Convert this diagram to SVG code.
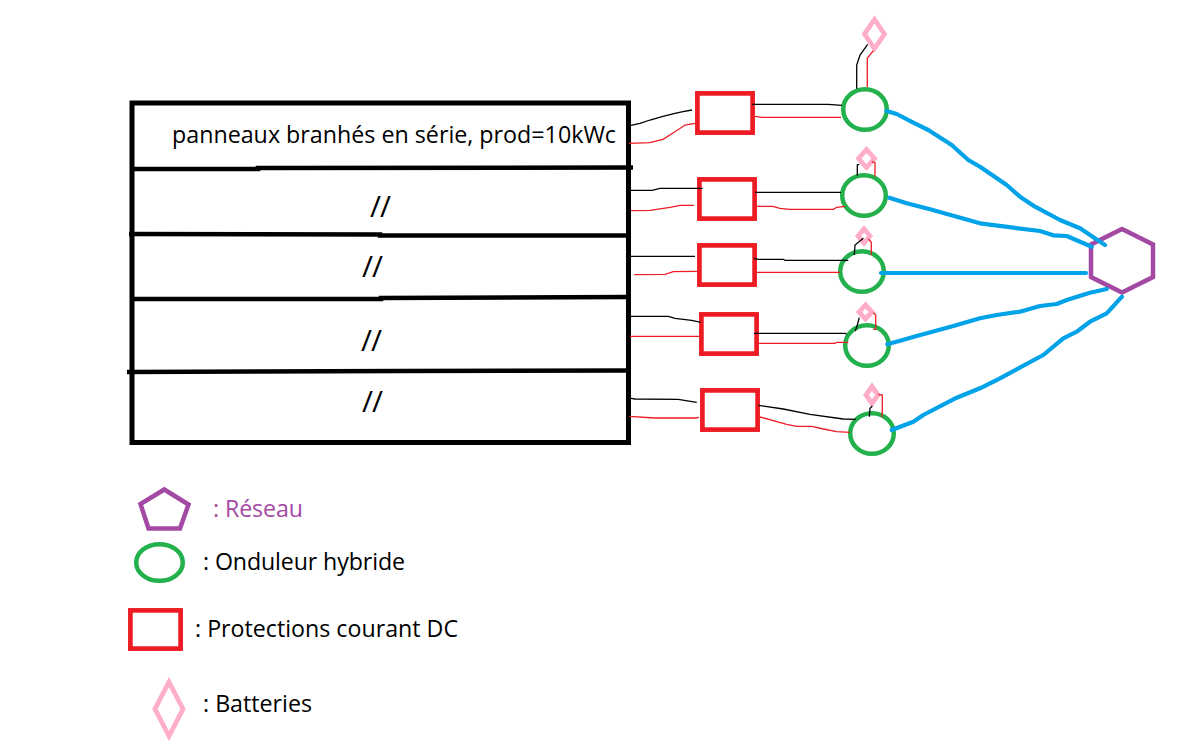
<svg xmlns="http://www.w3.org/2000/svg" width="1187" height="756" viewBox="0 0 1187 756">
<style>
text{font-family:"Open Sans","Noto Sans","Liberation Sans",sans-serif;font-size:23.2px;fill:#000}
.sl{font-size:30px;letter-spacing:-1px}
.panel{fill:none;stroke:#000;stroke-width:5}
.div{fill:none;stroke:#000;stroke-width:4.5}
.box{fill:#fff;stroke:#ED1C24;stroke-width:4.7}
.inv{fill:#fff;stroke:#22B14C;stroke-width:4.5}
.bat{fill:#fff;stroke:#FFAEC9;stroke-width:4.8}
.net{fill:#fff;stroke:#A349A4;stroke-width:4.5;stroke-linejoin:miter}
.k{fill:none;stroke:#000;stroke-width:1.3}
.r{fill:none;stroke:#ED1C24;stroke-width:1.3}
.b{fill:none;stroke:#00A2E8;stroke-width:4.2;stroke-linejoin:round;stroke-linecap:round}
</style>
<rect width="1187" height="756" fill="#fff"/>
<g id="panels">
<rect class="panel" x="132" y="103" width="496.500" height="339.500"/>
<polyline class="div" points="133,169 258,169 258,168 633,167.500"/>
<polyline class="div" points="129,234 380,234.500 380,235.500 628,235.500"/>
<polyline class="div" points="133,299 381,299 381,298 628,297"/>
<polyline class="div" points="127,372 400,371 628,370.500"/>
<text id="t-panel" x="172" y="143" textLength="444" lengthAdjust="spacingAndGlyphs">panneaux branhés en série, prod=10kWc</text>
<text class="sl" x="370" y="216.700">//</text>
<text class="sl" x="362" y="276.700">//</text>
<text class="sl" x="361" y="350.700">//</text>
<text class="sl" x="362" y="411.700">//</text>
</g>
<g id="protections">
<rect class="box" x="697.400" y="93.400" width="55.200" height="39.200"/>
<rect class="box" x="699.400" y="179.400" width="55.200" height="39.200"/>
<rect class="box" x="699.400" y="245.400" width="55.200" height="39.200"/>
<rect class="box" x="701.400" y="314.400" width="55.200" height="39.200"/>
<rect class="box" x="702.400" y="390.400" width="55.200" height="39.200"/>
</g>
<g id="inverters">
<ellipse class="inv" cx="865" cy="109.500" rx="21.800" ry="20.300"/>
<ellipse class="inv" cx="864" cy="195.500" rx="21.800" ry="20.300"/>
<ellipse class="inv" cx="862" cy="271.500" rx="21.800" ry="20.300"/>
<ellipse class="inv" cx="867" cy="345.500" rx="21.800" ry="20.300"/>
<ellipse class="inv" cx="872" cy="433.500" rx="21.800" ry="20.300"/>
</g>
<g id="batteries">
<polygon class="bat" points="874.500,19.500 884.500,34 874.500,48.500 864.500,34"/>
<polygon class="bat" points="866.500,149.500 874.500,158.500 866.500,167.500 858.500,158.500"/>
<polygon class="bat" points="864,229 870,236 864,243 858,236"/>
<polygon class="bat" points="865.500,305 872,312 865.500,319 859,312"/>
<polygon class="bat" points="872,386.500 878,395 872,403.500 866,395"/>
</g>
<g id="network">
<polygon class="net" points="1122,229 1153,244.500 1153,277 1122,292.500 1091,277 1091,244.500"/>
</g>
<g id="connectors">
<polyline class="k" points="631,125.300 640,123.300 650,120 662,116.700 675,113.300 683,111.700 692,110"/>
<polyline class="r" points="629,143.300 650,142.700 663,139.300 675,131.700 685,125 695,123.300"/>
<polyline class="k" points="752,104.300 828,104.300 842,105.300"/>
<polyline class="r" points="755,116.300 762,117.300 841,117.300"/>
<polyline class="k" points="856.700,88.700 856.700,65 860,55 867.700,44.300"/>
<polyline class="r" points="867.300,87.300 867.300,58.300 873.300,50.700"/>
<polyline class="k" points="631,190.300 652,190.300 660,188.300 702.700,188.300"/>
<polyline class="r" points="631,210.700 650,210.300 670,207.300 680,205.300 694,205.300"/>
<polyline class="k" points="755,192.300 841,192.300"/>
<polyline class="r" points="757,206.300 772.700,206.300 780,208.300 790,209.300 833.300,209.300 836.700,207.300 845,206.300"/>
<polyline class="k" points="857.300,175.700 857.300,165 859.300,164.300"/>
<polyline class="r" points="875,176.700 875,162.700 871.700,161.700"/>
<polyline class="k" points="631,256.300 695,256.300"/>
<polyline class="r" points="634.300,274.700 665,274.300 673.300,271.700 697.300,271.300"/>
<polyline class="k" points="754,258.300 758.300,259.300 783.300,259.300 785,260.300 848.300,260.300"/>
<polyline class="r" points="757,272.300 840,272.300"/>
<polyline class="k" points="854.300,255 855,245 863.300,238.300"/>
<polyline class="r" points="871.300,255 871.300,242.300 868.300,239"/>
<polyline class="k" points="631,316.300 668.300,316.300 675,318.300 691.700,320.300 701,322.300"/>
<polyline class="r" points="630,336.300 699,336.300"/>
<polyline class="k" points="754,333.300 845,333.300 846.700,334.300"/>
<polyline class="r" points="759,343.300 835,343.300 836.700,342.300 848.300,342.300"/>
<polyline class="k" points="855.300,331 857.300,325 859.300,317.700"/>
<polyline class="r" points="873.300,329.300 875.700,329.300 875.700,315 873.300,312.700"/>
<polyline class="k" points="631,398.300 635,399 678.300,399.300 696.700,402.300"/>
<polyline class="r" points="629.300,416.300 655,418 696.700,418 699,417"/>
<polyline class="k" points="758.300,405.300 783.300,409 810,414.300 843.300,419 856,419.300"/>
<polyline class="r" points="760,417 786.700,424.300 796.700,426.300 811.700,426.300 823.300,429 836.700,431.700 850,432.300"/>
<polyline class="k" points="869.300,416.700 870,408.300 872.300,406"/>
<polyline class="r" points="882,417.300 882.300,410 882.300,395 878.300,394.300"/>
<polyline class="b" points="886.700,111 896.700,114 913.300,122.700 928.300,130 951.700,145 968.300,160 980,166.700 1006.700,185 1020,196.700 1035,206.700 1060,220 1080,228.300 1105,245"/>
<polyline class="b" points="889.300,197.700 906.700,203.300 930,209.300 956.700,216.700 980,223.300 1013.300,227.700 1040,231 1053.300,235.300 1066.700,236 1091.700,246.700"/>
<polyline class="b" points="881,273 1086,273"/>
<polyline class="b" points="887.300,344.300 900,340.700 916.700,336 953.300,326 980,318.300 996.700,315 1020,311.700 1040,306 1056.700,304 1066.700,300 1090,292.700 1106.700,289"/>
<polyline class="b" points="891.700,430 913.300,421.700 923.300,415 956.700,397.700 980,388.300 1000,378.300 1043.300,355 1063.300,338.300 1076.700,331.700 1090,321.700 1106.700,313.300 1122,296.700"/>
</g>
<g id="legend">
<g id="leg-net"><polygon class="net" points="164.300,489.500 188.500,504.500 180,528.500 148.500,528.500 140.500,504"/><text x="213" y="517" textLength="90" style="fill:#A349A4">: Réseau</text></g>
<g id="leg-inv"><ellipse class="inv" cx="159.500" cy="562.500" rx="23.300" ry="18.300"/><text x="203" y="570" textLength="202">: Onduleur hybride</text></g>
<g id="leg-box"><rect class="box" x="130.400" y="610.400" width="50.200" height="38.200"/><text x="195" y="637" textLength="263">: Protections courant DC</text></g>
<g id="leg-bat"><polygon class="bat" points="169,682 183,709 169,736 155,709"/><text x="203" y="712" textLength="109">: Batteries</text></g>
</g>
</svg>
